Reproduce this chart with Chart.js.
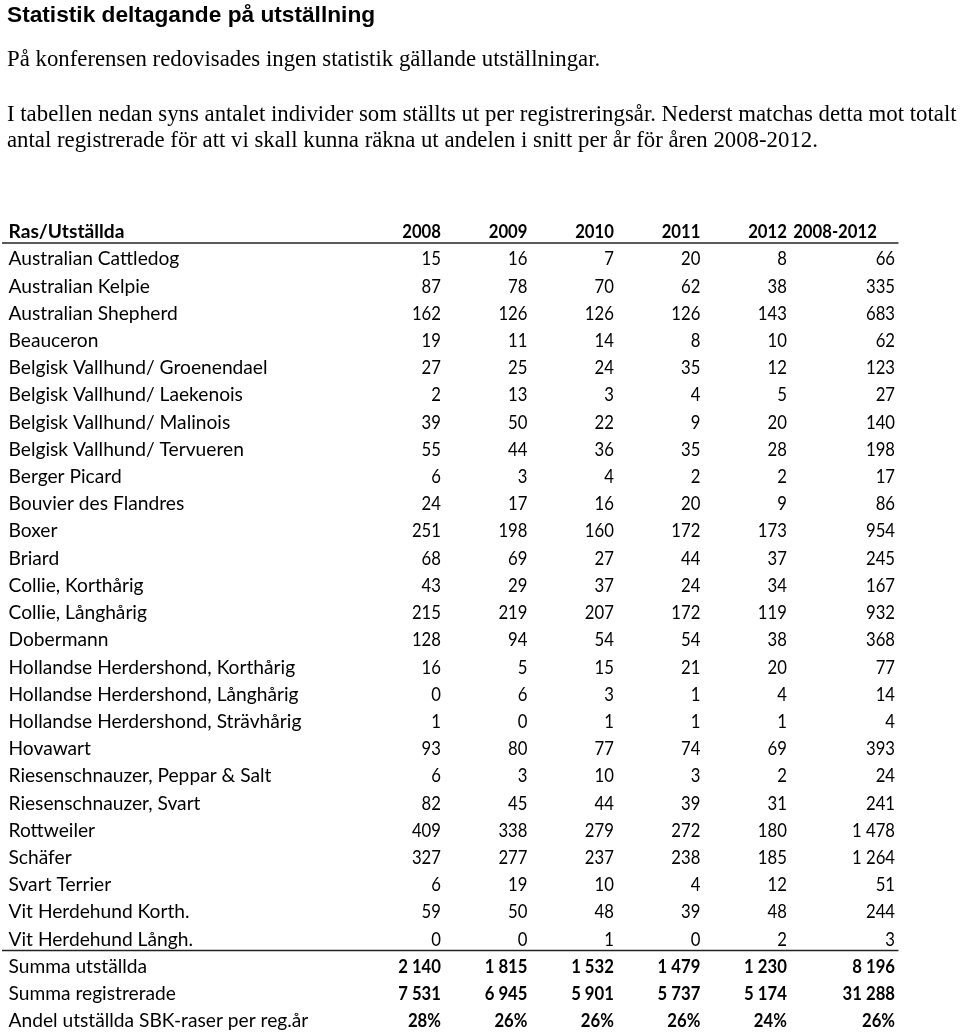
<!DOCTYPE html>
<html lang="sv">
<head>
<meta charset="utf-8">
<title>Statistik deltagande på utställning</title>
<script src="https://cdn.jsdelivr.net/npm/chart.js@4.4.1/dist/chart.umd.min.js"></script>
<style>
  html, body { margin: 0; padding: 0; background: #fff; }
  body { width: 960px; height: 1032px; position: relative; overflow: hidden; }
  #table-chart { position: absolute; left: 0; top: 0; }
  .txt { position: absolute; left: 7px; white-space: nowrap; color: #000; margin: 0; }
  .title { top: 1px; font: bold 22.7px/26px "Liberation Sans", Arial, sans-serif; }
  .para { font: 22.8px/26px "Liberation Serif", "Times New Roman", serif; }
</style>
</head>
<body>
<canvas id="table-chart" width="960" height="1032"></canvas>
<h1 class="txt title">Statistik deltagande på utställning</h1>
<p class="txt para" style="top:46px">På konferensen redovisades ingen statistik gällande utställningar.</p>
<p class="txt para" style="top:101px">I tabellen nedan syns antalet individer som ställts ut per registreringsår. Nederst matchas detta mot totalt<br>antal registrerade för att vi skall kunna räkna ut andelen i snitt per år för åren 2008-2012.</p>
<script>
// Tabell: utställda individer per ras och registreringsår
const headerLabels = ['Ras/Utställda', '2008', '2009', '2010', '2011', '2012', '2008-2012'];

const breeds = [
  'Australian Cattledog', 'Australian Kelpie', 'Australian Shepherd', 'Beauceron',
  'Belgisk Vallhund/ Groenendael', 'Belgisk Vallhund/ Laekenois', 'Belgisk Vallhund/ Malinois',
  'Belgisk Vallhund/ Tervueren', 'Berger Picard', 'Bouvier des Flandres', 'Boxer', 'Briard',
  'Collie, Korthårig', 'Collie, Långhårig', 'Dobermann', 'Hollandse Herdershond, Korthårig',
  'Hollandse Herdershond, Långhårig', 'Hollandse Herdershond, Strävhårig', 'Hovawart',
  'Riesenschnauzer, Peppar & Salt', 'Riesenschnauzer, Svart', 'Rottweiler', 'Schäfer',
  'Svart Terrier', 'Vit Herdehund Korth.', 'Vit Herdehund Långh.'
];

const y2008 = [15, 87, 162, 19, 27, 2, 39, 55, 6, 24, 251, 68, 43, 215, 128, 16, 0, 1, 93, 6, 82, 409, 327, 6, 59, 0];
const y2009 = [16, 78, 126, 11, 25, 13, 50, 44, 3, 17, 198, 69, 29, 219, 94, 5, 6, 0, 80, 3, 45, 338, 277, 19, 50, 0];
const y2010 = [7, 70, 126, 14, 24, 3, 22, 36, 4, 16, 160, 27, 37, 207, 54, 15, 3, 1, 77, 10, 44, 279, 237, 10, 48, 1];
const y2011 = [20, 62, 126, 8, 35, 4, 9, 35, 2, 20, 172, 44, 24, 172, 54, 21, 1, 1, 74, 3, 39, 272, 238, 4, 39, 0];
const y2012 = [8, 38, 143, 10, 12, 5, 20, 28, 2, 9, 173, 37, 34, 119, 38, 20, 4, 1, 69, 2, 31, 180, 185, 12, 48, 2];
const total = [66, 335, 683, 62, 123, 27, 140, 198, 17, 86, 954, 245, 167, 932, 368, 77, 14, 4, 393, 24, 241, 1478, 1264, 51, 244, 3];

const summaryLabels = ['Summa utställda', 'Summa registrerade', 'Andel utställda SBK-raser per reg.år'];
const summaUtstallda = [2140, 1815, 1532, 1479, 1230, 8196];
const summaRegistrerade = [7531, 6945, 5901, 5737, 5174, 31288];
const andelProcent = [28, 26, 26, 26, 24, 26];

// layout (kolumnenheter på x-skalan)
const COL_X = [5, 6, 7, 8, 9, 10.25];
const HEAD_X = [5, 6, 7, 8, 9, 10.04];
const FONT = '"Lato", "Noto Sans", sans-serif';
const FONT_SIZE = 19.2;
const NUM_SQUEEZE = 0.87;   // Lato-siffror är bredare än Calibri

const columns = [y2008, y2009, y2010, y2011, y2012, total];
const rowLabels = [headerLabels[0], ...breeds, ...summaryLabels];

function fmt(n) {
  return String(n).replace(/\B(?=(\d{3})+(?!\d))/g, ' ');
}

const datasets = [];
// radetiketter
datasets.push({
  data: rowLabels.map(r => ({ x: 0, y: r })),
  texts: rowLabels,
  bold: rowLabels.map((r, i) => i === 0),
  align: 'left',
  squeeze: 1
});
columns.forEach((col, c) => {
  const data = [{ x: HEAD_X[c], y: rowLabels[0] }];
  breeds.forEach(b => data.push({ x: COL_X[c], y: b }));
  summaryLabels.forEach(s => data.push({ x: COL_X[c], y: s }));
  const texts = [headerLabels[c + 1], ...col.map(fmt),
    fmt(summaUtstallda[c]), fmt(summaRegistrerade[c]), andelProcent[c] + '%'];
  datasets.push({
    data,
    texts,
    bold: texts.map((t, i) => i === 0 || i > breeds.length),
    align: 'right',
    squeeze: NUM_SQUEEZE
  });
});

const cellText = {
  id: 'cellText',
  afterDatasetsDraw(chart) {
    const ctx = chart.ctx;
    const x = chart.scales.x, y = chart.scales.y;
    ctx.save();
    ctx.fillStyle = '#000';
    ctx.textBaseline = 'middle';
    chart.data.datasets.forEach((ds, di) => {
      chart.getDatasetMeta(di).data.forEach((pt, i) => {
        ctx.save();
        ctx.font = (ds.bold[i] ? 'bold ' : '') + FONT_SIZE + 'px ' + FONT;
        ctx.textAlign = ds.align;
        ctx.translate(pt.x, pt.y + 1);
        ctx.scale(ds.squeeze, 1);
        ctx.fillText(ds.texts[i], 0, 0);
        ctx.restore();
      });
    });
    // linjer under rubrikrad och sista rasen
    const x0 = x.getPixelForValue(-0.075), x1 = x.getPixelForValue(10.29);
    const lineY = (a, b) => (y.getPixelForValue(a) + y.getPixelForValue(b)) / 2 - 1.5;
    ctx.strokeStyle = '#222';
    ctx.lineWidth = 1.5;
    [lineY(0, 1), lineY(breeds.length, breeds.length + 1)].forEach(ly => {
      ctx.beginPath();
      ctx.moveTo(x0, ly);
      ctx.lineTo(x1, ly);
      ctx.stroke();
    });
    ctx.restore();
  }
};

new Chart(document.getElementById('table-chart'), {
  type: 'scatter',
  data: { datasets },
  options: {
    responsive: false,
    animation: false,
    events: [],
    devicePixelRatio: 1,
    layout: { padding: { top: 231, bottom: 12, left: 8.5, right: 65 } },
    elements: { point: { radius: 0, hoverRadius: 0 } },
    plugins: { legend: { display: false }, tooltip: { enabled: false } },
    scales: {
      x: { type: 'linear', min: 0, max: 10.25, display: false },
      y: { type: 'category', labels: rowLabels, display: false }
    }
  },
  plugins: [cellText]
});
</script>
</body>
</html>
